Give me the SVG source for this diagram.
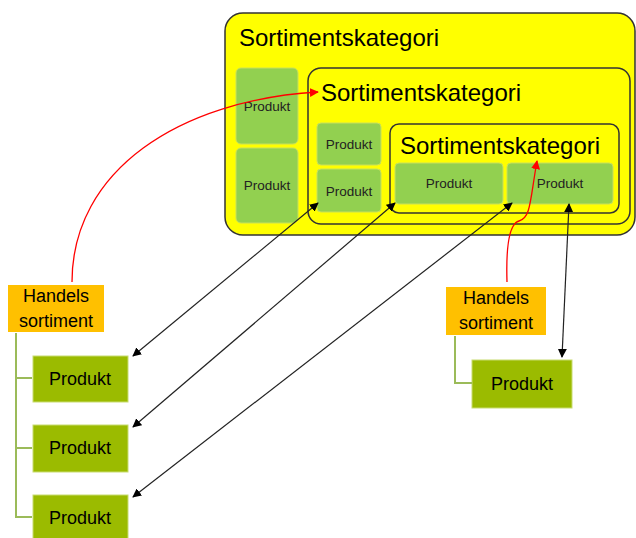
<svg xmlns="http://www.w3.org/2000/svg" width="636" height="538" viewBox="0 0 636 538">
<style>
text{font-family:"Liberation Sans",Arial,sans-serif;fill:#000}
.cat{fill:#ffff00;stroke:#333;stroke-width:1.5}
.tt{font-size:24px}
.p1{fill:#92d050;stroke:#c8e05a;stroke-width:1}
.p1t{font-size:13.5px;text-anchor:middle;fill:#222}
.p2{fill:#9bbb00;stroke:#c8dc70;stroke-width:1}
.p2t{font-size:18px;text-anchor:middle}
.hs{fill:#ffc000}
.hst{font-size:18px;text-anchor:middle}
.tree{fill:none;stroke:#9bbb59;stroke-width:2}
.blk{fill:none;stroke:#222;stroke-width:1.2;marker-start:url(#ab);marker-end:url(#ab)}
.red{fill:none;stroke:#ff0000;stroke-width:1.3;marker-end:url(#ar)}
</style>
<defs>
<marker id="ab" viewBox="0 0 10 10" refX="9" refY="5" markerWidth="9" markerHeight="9" markerUnits="userSpaceOnUse" orient="auto-start-reverse"><path d="M0,0 L10,5 L0,10 z" fill="#000"/></marker>
<marker id="ar" viewBox="0 0 10 10" refX="9" refY="5" markerWidth="9" markerHeight="9" markerUnits="userSpaceOnUse" orient="auto"><path d="M0,0 L10,5 L0,10 z" fill="#ff0000"/></marker>
</defs>
<g id="cat1">
<rect class="cat" x="225" y="13" width="410" height="222" rx="18"/>
<text class="tt" x="239" y="46">Sortimentskategori</text>
</g>
<g id="p_a"><rect class="p1" x="236" y="68" width="62" height="76" rx="5"/><text class="p1t" x="267" y="111">Produkt</text></g>
<g id="p_b"><rect class="p1" x="236" y="148" width="62" height="75" rx="5"/><text class="p1t" x="267" y="190">Produkt</text></g>
<g id="cat2">
<rect class="cat" x="308" y="68" width="322" height="156" rx="13"/>
<text class="tt" x="321" y="101">Sortimentskategori</text>
</g>
<g id="p_c"><rect class="p1" x="317" y="123" width="64" height="42" rx="4"/><text class="p1t" x="349" y="149">Produkt</text></g>
<g id="p_d"><rect class="p1" x="317" y="169" width="64" height="43" rx="4"/><text class="p1t" x="349" y="196">Produkt</text></g>
<g id="cat3">
<rect class="cat" x="390" y="124" width="229" height="89" rx="9"/>
<text class="tt" x="400" y="154">Sortimentskategori</text>
</g>
<g id="p_e"><rect class="p1" x="395" y="163" width="108" height="41" rx="4"/><text class="p1t" x="449" y="188">Produkt</text></g>
<g id="p_f"><rect class="p1" x="507" y="163" width="106" height="41" rx="4"/><text class="p1t" x="560" y="188">Produkt</text></g>
<g id="hs1"><rect class="hs" x="8" y="285" width="96" height="47"/><text class="hst" x="56" y="302">Handels</text><text class="hst" x="56" y="327">sortiment</text></g>
<g id="lp1"><rect class="p2" x="33" y="356" width="95" height="46"/><text class="p2t" x="80" y="385">Produkt</text></g>
<g id="lp2"><rect class="p2" x="33" y="425" width="95" height="47"/><text class="p2t" x="80" y="454">Produkt</text></g>
<g id="lp3"><rect class="p2" x="33" y="495" width="95" height="50"/><text class="p2t" x="80" y="524">Produkt</text></g>
<g id="hs2"><rect class="hs" x="446" y="287" width="100" height="48"/><text class="hst" x="496" y="304">Handels</text><text class="hst" x="496" y="329">sortiment</text></g>
<g id="rp"><rect class="p2" x="472" y="360" width="100" height="48"/><text class="p2t" x="522" y="390">Produkt</text></g>
<g id="connectors">
<path class="tree" d="M16,333 V517 H32 M16,378 H32 M16,448 H32"/>
<path class="tree" d="M455,336 V383 H472"/>
<path class="blk" d="M133,356 L318,203"/>
<path class="blk" d="M133,427 L395,203"/>
<path class="blk" d="M133,497 L512,203"/>
<path class="blk" d="M569,204 L562,357"/>
<path class="red" d="M72,282 C72,170 180,100 318,92"/>
<path class="red" d="M507,282 C506,250 508,224 519,221 C531,218 530,200 537,161"/>
</g>
</svg>
